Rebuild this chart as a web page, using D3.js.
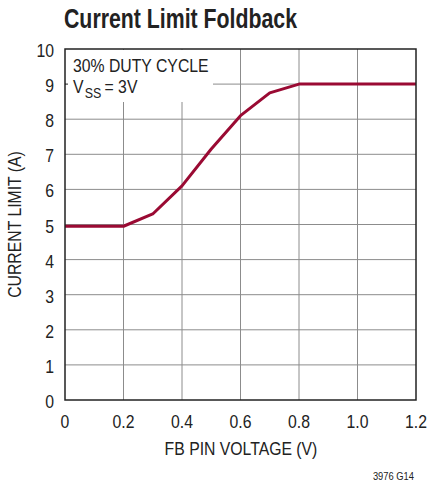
<!DOCTYPE html>
<html>
<head>
<meta charset="utf-8">
<script src="https://cdn.jsdelivr.net/npm/d3@7"></script>
<style>
  body { margin: 0; background: #fff; }
  text { font-family: "Liberation Sans", Arial, sans-serif; fill: #222; }
</style>
</head>
<body>
<div id="chart"></div>
<script>
// FB pin voltage (V) vs current limit (A)
const voltage = [0, 0.2, 0.3, 0.4, 0.5, 0.6, 0.7, 0.8, 1.2];
const current = [4.95, 4.95, 5.3, 6.1, 7.15, 8.1, 8.75, 9.0, 9.0];
const xTicks = [0, 0.2, 0.4, 0.6, 0.8, 1.0, 1.2];
const yTicks = [0, 1, 2, 3, 4, 5, 6, 7, 8, 9, 10];

const width = 429;
const height = 484;
const margin = { top: 49, right: 13, bottom: 84, left: 65 };
const squeeze = 0.83; // narrow look of the original typeface

const svg = d3.select('#chart')
  .append('svg')
  .attr('width', width)
  .attr('height', height);

const x = d3.scaleLinear().domain([0, 1.2]).range([margin.left, width - margin.right]);
const y = d3.scaleLinear().domain([0, 10]).range([height - margin.bottom, margin.top]);

// squeeze text horizontally
function condense(sel, k = squeeze) {
  sel.each(function () {
    const len = this.getComputedTextLength();
    d3.select(this)
      .attr('textLength', len * k)
      .attr('lengthAdjust', 'spacingAndGlyphs');
  });
}

// title
svg.append('text')
  .attr('x', 64)
  .attr('y', 28)
  .attr('font-size', 27)
  .attr('font-weight', 'bold')
  .attr('textLength', 233)
  .attr('lengthAdjust', 'spacingAndGlyphs')
  .text('Current Limit Foldback');

// grid
const grid = svg.append('g').attr('stroke', '#8c8c8c').attr('stroke-width', 1);
grid.selectAll('.hgrid')
  .data(yTicks.slice(1, -1))
  .enter()
  .append('line')
  .attr('x1', x(0))
  .attr('x2', x(1.2))
  .attr('y1', d => y(d))
  .attr('y2', d => y(d));
grid.selectAll('.vgrid')
  .data(xTicks.slice(1, -1))
  .enter()
  .append('line')
  .attr('x1', d => x(d))
  .attr('x2', d => x(d))
  .attr('y1', y(0))
  .attr('y2', y(10));

// box behind annotation masks the grid
svg.append('rect')
  .attr('x', x(0) + 1)
  .attr('y', y(10) + 1)
  .attr('width', 147)
  .attr('height', 52)
  .attr('fill', '#fff');

// small inner tick at 9
svg.append('line')
  .attr('x1', x(0))
  .attr('x2', x(0) + 3)
  .attr('y1', y(9))
  .attr('y2', y(9))
  .attr('stroke', '#222');

// curve
const line = d3.line()
  .x((d, i) => x(voltage[i]))
  .y(d => y(d));

svg.append('path')
  .datum(current)
  .attr('fill', 'none')
  .attr('stroke', '#9a0a33')
  .attr('stroke-width', 3)
  .attr('stroke-linejoin', 'round')
  .attr('d', line);

// frame
svg.append('rect')
  .attr('x', x(0))
  .attr('y', y(10))
  .attr('width', x(1.2) - x(0))
  .attr('height', y(0) - y(10))
  .attr('fill', 'none')
  .attr('stroke', '#222')
  .attr('stroke-width', 1.5);

// tick labels
svg.append('g')
  .selectAll('text')
  .data(yTicks)
  .enter()
  .append('text')
  .attr('x', 54)
  .attr('y', d => y(d) + 8)
  .attr('text-anchor', 'end')
  .attr('font-size', 19)
  .text(d => d)
  .call(condense);

svg.append('g')
  .selectAll('text')
  .data(xTicks)
  .enter()
  .append('text')
  .attr('x', d => x(d))
  .attr('y', 428)
  .attr('text-anchor', 'middle')
  .attr('font-size', 19)
  .text(d => (d === 0 ? '0' : d.toFixed(1)))
  .call(condense);

// axis labels
svg.append('text')
  .attr('x', 241)
  .attr('y', 455)
  .attr('text-anchor', 'middle')
  .attr('font-size', 19)
  .text('FB PIN VOLTAGE (V)')
  .call(condense);

svg.append('text')
  .attr('transform', `translate(21, ${y(5)}) rotate(-90)`)
  .attr('text-anchor', 'middle')
  .attr('font-size', 19)
  .text('CURRENT LIMIT (A)')
  .call(condense);

// annotation
svg.append('text')
  .attr('x', 73)
  .attr('y', 72)
  .attr('font-size', 19)
  .text('30% DUTY CYCLE')
  .call(condense);

// V_SS = 3V, pieces placed one after another
const vParts = [
  { t: 'V', size: 19, dy: 0 },
  { t: 'SS', size: 15, dy: 5, gap: 3 },
  { t: '= 3V', size: 19, dy: 0, gap: 6 },
];
let cx = 73;
vParts.forEach(p => {
  cx += p.gap || 0;
  const el = svg.append('text')
    .attr('x', cx)
    .attr('y', 93 + p.dy)
    .attr('font-size', p.size)
    .text(p.t)
    .call(condense);
  cx += el.node().getComputedTextLength() * squeeze;
});

// figure id
svg.append('text')
  .attr('x', 414)
  .attr('y', 480)
  .attr('text-anchor', 'end')
  .attr('font-size', 11)
  .text('3976 G14')
  .call(condense, 0.85);
</script>
</body>
</html>
